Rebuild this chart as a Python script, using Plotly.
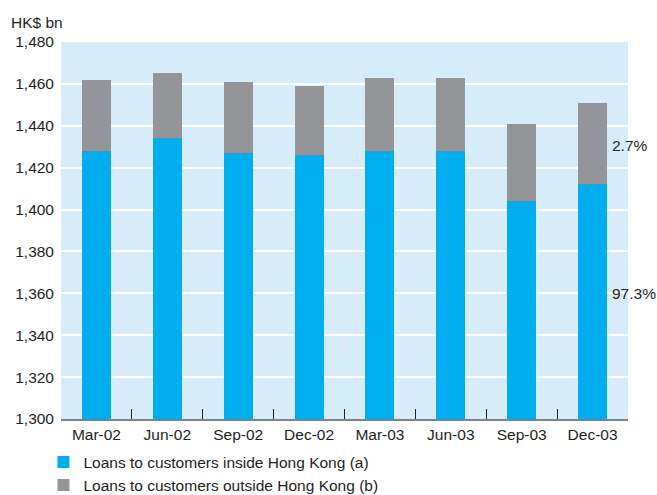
import plotly.graph_objects as go

categories = ["Mar-02", "Jun-02", "Sep-02", "Dec-02", "Mar-03", "Jun-03", "Sep-03", "Dec-03"]
inside_hk = [1428, 1434, 1427, 1426, 1428, 1428, 1404, 1412]
outside_hk = [34, 31, 34, 33, 35, 35, 37, 39]
y_ticks = [1300, 1320, 1340, 1360, 1380, 1400, 1420, 1440, 1460, 1480]
y_tick_labels = ["1,300", "1,320", "1,340", "1,360", "1,380", "1,400", "1,420", "1,440", "1,460", "1,480"]
share_labels = ["2.7%", "97.3%"]

base = 1300
font_family = "Liberation Sans, Arial, sans-serif"
text_color = "#231f20"
fs = 15.5

fig = go.Figure()
fig.add_trace(go.Bar(
    x=categories, y=[v - base for v in inside_hk], base=base,
    name="Loans to customers inside Hong Kong (a)",
    marker=dict(color="#00aeef", line=dict(width=0)),
))
fig.add_trace(go.Bar(
    x=categories, y=outside_hk, base=inside_hk,
    name="Loans to customers outside Hong Kong (b)",
    marker=dict(color="#939598", line=dict(width=0)),
))

last_in = inside_hk[-1]
last_total = inside_hk[-1] + outside_hk[-1]
fig.add_annotation(x=1.0, xref="paper", xshift=-18, y=(last_in + last_total) / 2 - 1, yref="y",
                   text=share_labels[0], showarrow=False, xanchor="left",
                   font=dict(size=fs, color=text_color, family=font_family))
fig.add_annotation(x=1.0, xref="paper", xshift=-18, y=1360, yref="y",
                   text=share_labels[1], showarrow=False, xanchor="left",
                   font=dict(size=fs, color=text_color, family=font_family))
fig.add_annotation(x=0, xref="paper", xshift=-52, y=1480, yref="y", yshift=20,
                   text="HK$ bn", showarrow=False, xanchor="left",
                   font=dict(size=fs, color=text_color, family=font_family))

fig.update_layout(
    width=657, height=495,
    margin=dict(l=61, r=29, t=42, b=76, autoexpand=False),
    paper_bgcolor="white",
    plot_bgcolor="#d6ecf9",
    barmode="stack",
    bargap=0.59,
    font=dict(family=font_family, size=fs, color=text_color),
    showlegend=True,
    legend=dict(x=-0.031, xanchor="left", y=-0.07, yanchor="top", orientation="v",
                font=dict(size=fs, color=text_color), bgcolor="rgba(0,0,0,0)",
                tracegroupgap=0, traceorder="normal"),
    xaxis=dict(showgrid=False, ticks="inside", tickson="boundaries", ticklen=10,
               tickcolor="#231f20", tickwidth=1, showline=True, linecolor="#808285",
               linewidth=2, tickfont=dict(size=fs), fixedrange=True),
    yaxis=dict(range=[1300, 1480], tickvals=y_ticks, ticktext=y_tick_labels,
               showgrid=True, gridcolor="white", gridwidth=2, zeroline=False,
               showline=False, ticks="", ticklabelstandoff=6, tickfont=dict(size=fs)),
)

fig.write_html("out.html")
